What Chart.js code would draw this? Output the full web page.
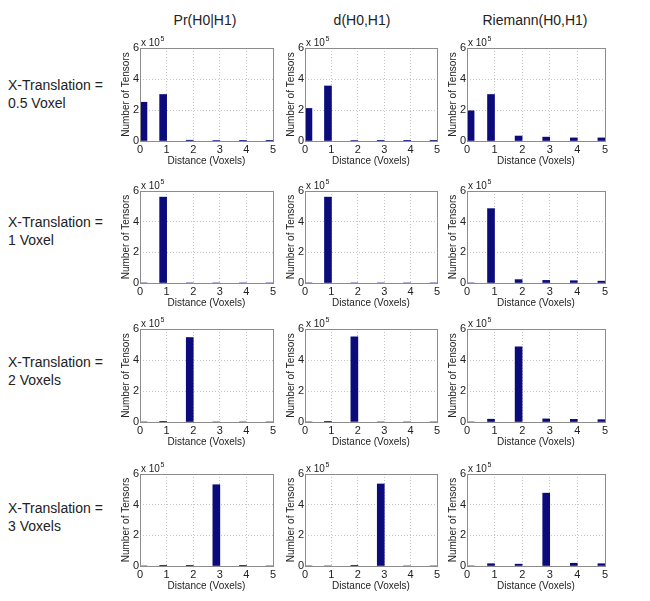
<!DOCTYPE html>
<html>
<head>
<meta charset="utf-8">
<script src="https://cdn.jsdelivr.net/npm/chart.js@4.4.1/dist/chart.umd.min.js"></script>
<style>
  html, body { margin:0; padding:0; background:#fff; }
  body { width:650px; height:601px; position:relative; overflow:hidden; font-family:"Liberation Sans", Arial, sans-serif; color:#222; }
  .ttl { position:absolute; font-size:14px; transform:translate(-50%,-50%); white-space:nowrap; }
  .row { position:absolute; left:8px; font-size:14px; line-height:18px; white-space:nowrap; }
  canvas { position:absolute; }
</style>
</head>
<body>
<script>
// ---- data ----
const columnTitles = ["Pr(H0|H1)", "d(H0,H1)", "Riemann(H0,H1)"];
const rowLabels = [["X-Translation =", "0.5 Voxel"], ["X-Translation =", "1 Voxel"], ["X-Translation =", "2 Voxels"], ["X-Translation =", "3 Voxels"]];
const binCenters = [0.13, 0.87, 1.87, 2.87, 3.87, 4.87]; // distance (voxels)
const xTicks = [0, 1, 2, 3, 4, 5];
const yTicks = [0, 2, 4, 6]; // x 10^5
// counts in units of 10^5 tensors, rows = translation, cols = measure
const row1_pr = [2.5, 3.0, 0.05, 0.03, 0.02, 0.02];
const row1_d  = [2.1, 3.55, 0.03, 0.02, 0.01, 0.01];
const row1_ri = [1.95, 3.0, 0.32, 0.25, 0.2, 0.2];
const row2_pr = [0, 5.6, 0, 0, 0, 0];
const row2_d  = [0, 5.6, 0, 0, 0, 0];
const row2_ri = [0, 4.85, 0.22, 0.17, 0.15, 0.12];
const row3_pr = [0, 0.02, 5.45, 0, 0, 0];
const row3_d  = [0, 0.02, 5.5, 0, 0, 0];
const row3_ri = [0, 0.18, 4.85, 0.2, 0.17, 0.15];
const row4_pr = [0, 0.02, 0.02, 5.3, 0.02, 0];
const row4_d  = [0, 0, 0.02, 5.35, 0, 0];
const row4_ri = [0, 0.15, 0.12, 4.75, 0.18, 0.15];
const grid = [[row1_pr, row1_d, row1_ri],[row2_pr, row2_d, row2_ri],[row3_pr, row3_d, row3_ri],[row4_pr, row4_d, row4_ri]];

// ---- layout ----
const colLeft = [140, 305, 467], colRight = [273, 437, 605];
const rowTop = [48, 191, 329, 474], rowBottom = [141, 283, 422, 566];
const titleX = [205, 362, 535];
const rowLabelY = [76, 213, 353, 499];
const YW = 20, XH = 26, PT = 14, PR = 8;

columnTitles.forEach((t,i)=>{
  const d=document.createElement('div'); d.className='ttl'; d.textContent=t;
  d.style.left=titleX[i]+'px'; d.style.top='20px'; document.body.appendChild(d);
});
rowLabels.forEach((l,i)=>{
  const d=document.createElement('div'); d.className='row';
  d.innerHTML=l[0]+'<br>'+l[1]; d.style.top=rowLabelY[i]+'px'; document.body.appendChild(d);
});

const boxPlugin = {
  id:'box',
  afterDraw(chart){
    const {ctx, chartArea:a} = chart;
    ctx.save();
    ctx.strokeStyle='#8c8c8c'; ctx.lineWidth=1;
    ctx.strokeRect(Math.round(a.left)+0.5, Math.round(a.top)+0.5, Math.round(a.right-a.left), Math.round(a.bottom-a.top));
    ctx.fillStyle='#222';
    ctx.font='10px "Liberation Sans", Arial, sans-serif';
    ctx.textBaseline='alphabetic';
    const x0=a.left+1, y0=a.top-2;
    ctx.fillText('x 10', x0, y0);
    const w=ctx.measureText('x 10').width;
    ctx.font='7px "Liberation Sans", Arial, sans-serif';
    ctx.fillText('5', x0+w+0.5, y0-5);
    ctx.restore();
  }
};

for(let r=0;r<4;r++){
  for(let c=0;c<3;c++){
    const pw=colRight[c]-colLeft[c], ph=rowBottom[r]-rowTop[r];
    const cv=document.createElement('canvas');
    const W=YW+pw+PR, H=PT+ph+XH;
    cv.width=W; cv.height=H;
    cv.style.left=(colLeft[c]-YW)+'px'; cv.style.top=(rowTop[r]-PT)+'px';
    cv.style.width=W+'px'; cv.style.height=H+'px';
    document.body.appendChild(cv);
    const vals=grid[r][c];
    new Chart(cv,{
      type:'bar',
      data:{datasets:[{data:binCenters.map((x,i)=>({x:x,y:vals[i]*1e5})), backgroundColor:'#0b0b7c', borderWidth:0, barThickness:7}]},
      options:{
        responsive:false, animation:false, devicePixelRatio:1,
        layout:{padding:{top:PT,right:PR,left:0,bottom:0}},
        plugins:{legend:{display:false},tooltip:{enabled:false}},
        scales:{
          x:{type:'linear',min:0,max:5,offset:false,
             afterFit(s){s.height=XH;},
             afterBuildTicks(s){s.ticks=xTicks.map(v=>({value:v}));},
             ticks:{padding:2,color:'#222',font:{size:11,family:'"Liberation Sans", Arial, sans-serif'},maxRotation:0,autoSkip:false},
             grid:{color:'#c4c4c4',drawTicks:false,offset:false},
             border:{display:false,dash:[1,2]},
             title:{display:true,text:'Distance (Voxels)',color:'#222',padding:{top:0,bottom:0},font:{size:10,family:'"Liberation Sans", Arial, sans-serif'}}},
          y:{min:0,max:6e5,
             afterFit(s){s.width=YW;},
             afterBuildTicks(s){s.ticks=yTicks.map(v=>({value:v*1e5}));},
             ticks:{padding:1,color:'#222',font:{size:11,family:'"Liberation Sans", Arial, sans-serif'},callback:v=>String(v/1e5)},
             grid:{color:'#c4c4c4',drawTicks:false},
             border:{display:false,dash:[1,2]},
             title:{display:true,text:'Number of Tensors',color:'#222',padding:{top:0,bottom:0},font:{size:10,family:'"Liberation Sans", Arial, sans-serif'}}}
        }
      },
      plugins:[boxPlugin]
    });
  }
}
</script>
</body>
</html>
